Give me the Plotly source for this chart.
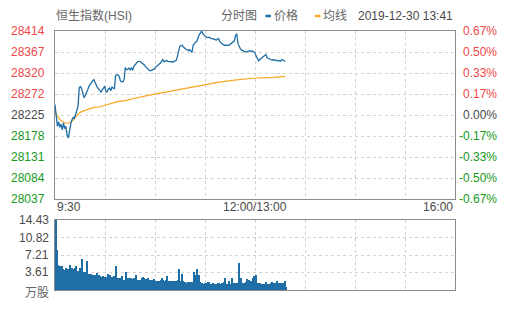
import plotly.graph_objects as go

# ---------------- data ----------------
price_minutes = list(range(191))
price = [
    28249, 28215, 28200, 28210, 28198, 28205, 28192, 28208, 28195, 28200,
    28180, 28174, 28196, 28205, 28215, 28220, 28218, 28228, 28232, 28245,
    28286, 28290, 28284, 28275, 28264, 28270, 28275, 28282, 28290, 28295,
    28297, 28302, 28305, 28298, 28293, 28287, 28284, 28280, 28277, 28282,
    28286, 28290, 28279, 28277, 28284, 28286, 28280, 28288, 28286, 28284,
    28314, 28316, 28316, 28312, 28302, 28300, 28300, 28305, 28332, 28327,
    28328, 28331, 28327, 28331, 28326, 28334, 28338, 28342, 28345, 28346,
    28346, 28344, 28342, 28339, 28337, 28333, 28330, 28327, 28325, 28325,
    28326, 28327, 28329, 28333, 28335, 28337, 28338, 28342, 28346, 28350,
    28345, 28347, 28348, 28346, 28346, 28346, 28345, 28344, 28346, 28346,
    28348, 28357, 28370, 28380, 28381, 28382, 28378, 28375, 28373, 28372,
    28370, 28372, 28368, 28366, 28382, 28387, 28389, 28391, 28400, 28406,
    28410, 28414, 28408, 28404, 28402, 28400, 28399, 28400, 28398, 28397,
    28397, 28396, 28395, 28394, 28396, 28397, 28390, 28387, 28385, 28383,
    28382, 28382, 28381, 28382, 28383, 28385, 28387, 28390, 28392, 28405,
    28407, 28385, 28378, 28374, 28371, 28369, 28368, 28367, 28367, 28368,
    28369, 28370, 28368, 28369, 28367, 28365, 28358, 28352, 28347, 28350,
    28353, 28355, 28357, 28359, 28361, 28354, 28352, 28351, 28350, 28349,
    28350, 28348, 28349, 28347, 28348, 28347, 28346, 28350, 28348, 28346,
    28346,
]

avg_minutes = [0, 2, 4, 6, 8, 10, 11, 13, 15, 18, 20, 22, 26, 30, 37, 45, 51,
               60, 64, 78, 92, 105, 119, 133, 146, 152, 163, 180, 186, 187, 190]
avg_price = [28232, 28222, 28215, 28211, 28208, 28207, 28207, 28210, 28214,
             28224, 28230, 28233, 28237, 28241, 28244, 28250, 28255, 28259,
             28262, 28270, 28277, 28284, 28292, 28298, 28303, 28305, 28308,
             28310, 28311, 28312, 28312]

vol_minutes = list(range(191))
volume = [
    14.43, 8.2, 5.2, 5.0, 4.9, 4.9, 4.3, 4.1, 4.1, 4.5,
    4.4, 3.8, 5.2, 3.8, 4.5, 4.4, 4.5, 4.9, 3.9, 3.9,
    4.5, 4.4, 6.4, 3.8, 3.7, 3.8, 5.9, 3.4, 3.4, 3.3,
    3.1, 3.1, 3.0, 3.1, 3.6, 3.0, 3.1, 2.9, 2.7, 2.8,
    2.7, 2.6, 2.7, 3.2, 2.7, 3.0, 2.7, 2.6, 2.8, 2.9,
    4.9, 2.5, 2.4, 2.5, 2.0, 2.9, 2.1, 2.0, 3.8, 2.4,
    2.5, 2.4, 2.4, 2.1, 2.3, 2.4, 3.0, 2.1, 2.0, 2.1,
    2.1, 2.4, 2.6, 2.4, 2.3, 2.2, 2.5, 2.1, 2.0, 2.1,
    2.0, 2.2, 1.9, 1.8, 1.9, 1.8, 1.9, 2.0, 2.4, 2.0,
    1.9, 2.0, 2.8, 1.9, 1.8, 1.9, 1.8, 1.9, 1.8, 1.9,
    1.8, 2.0, 4.3, 1.9, 3.3, 1.9, 1.6, 1.6, 1.5, 1.6,
    1.5, 1.6, 1.6, 1.6, 3.8, 3.1, 3.0, 4.3, 3.0, 1.7,
    1.4, 1.4, 1.3, 1.4, 1.4, 1.4, 1.7, 1.7, 1.2, 1.2,
    1.5, 1.2, 1.2, 1.2, 1.4, 1.4, 1.3, 1.4, 1.4, 1.6,
    2.5, 1.2, 1.2, 1.9, 1.2, 1.3, 2.5, 1.4, 1.3, 1.4,
    1.5, 5.5, 1.7, 2.5, 1.4, 1.4, 1.4, 1.6, 2.3, 2.1,
    2.1, 1.8, 1.8, 2.5, 2.9, 3.0, 1.4, 1.4, 1.3, 1.4,
    1.2, 1.2, 1.2, 1.2, 1.6, 1.2, 1.2, 1.3, 1.4, 1.7,
    1.4, 1.5, 1.5, 1.8, 1.5, 1.4, 1.4, 1.3, 1.4, 1.9,
    0.7,
]

price_labels = ["28414", "28367", "28320", "28272", "28225",
                "28178", "28131", "28084", "28037"]
pct_labels = ["0.67%", "0.50%", "0.33%", "0.17%", "0.00%",
              "-0.17%", "-0.33%", "-0.50%", "-0.67%"]
vol_labels = ["14.43", "10.82", "7.21", "3.61", "万股"]
vol_label_vals = [14.43, 10.82, 7.21, 3.61, 0]
time_labels = ["9:30", "12:00/13:00", "16:00"]

title_text = "恒生指数(HSI)"
view_text = "分时图"
legend_price = "价格"
legend_avg = "均线"
stamp_text = "2019-12-30 13:41"

# ---------------- style ----------------
W, H = 505, 310
L, R, T, B = 55, 50, 31, 20
PW, PH = W - L - R, H - T - B          # 400 x 259
BLUE = "#1f6ea6"
ORANGE = "#f7a823"
RED = "#f04848"
GREEN = "#17991b"
GRAY = "#4a4a4a"
TXT = "#666666"
BORDER = "#8c8c8c"
GRID = "#d2d2d2"
FONT = "Liberation Sans, Arial, Noto Sans CJK SC, sans-serif"

XMAX = 330
YMIN, YMAX = 28037, 28414
VMAX = 14.43


def px2paper_x(px):
    return (px - L) / PW


def py2paper_y(py):
    return (H - B - py) / PH


main_dom = [py2paper_y(199), 1.0]
vol_dom = [0.0, py2paper_y(220)]

fig = go.Figure()
fig.add_trace(go.Scatter(x=avg_minutes, y=avg_price, mode="lines",
                         line=dict(color=ORANGE, width=1.2),
                         xaxis="x", yaxis="y", hoverinfo="skip"))
fig.add_trace(go.Scatter(x=price_minutes, y=price, mode="lines",
                         line=dict(color=BLUE, width=1.3),
                         xaxis="x", yaxis="y"))
fig.add_trace(go.Bar(x=vol_minutes, y=volume, width=1, offset=0,
                     marker=dict(color=BLUE, line=dict(width=0)),
                     xaxis="x2", yaxis="y2"))

axis_common = dict(showline=True, mirror=True, linecolor=BORDER, linewidth=1,
                   showgrid=True, gridcolor=GRID, griddash="3px,3px",
                   gridwidth=1, zeroline=False, showticklabels=False,
                   ticks="", fixedrange=True)

fig.update_layout(
    width=W, height=H,
    margin=dict(l=L, r=R, t=T, b=B, pad=0),
    paper_bgcolor="white", plot_bgcolor="white",
    showlegend=False, bargap=0,
    font=dict(family=FONT, size=12, color=TXT),
    xaxis=dict(domain=[0, 1], range=[0, XMAX], tick0=0, dtick=XMAX / 8,
               anchor="y", **axis_common),
    yaxis=dict(domain=main_dom, range=[YMIN, YMAX], tick0=YMIN,
               dtick=(YMAX - YMIN) / 8, anchor="x", **axis_common),
    xaxis2=dict(domain=[0, 1], range=[0, XMAX], tick0=0, dtick=XMAX / 8,
                anchor="y2", **axis_common),
    yaxis2=dict(domain=vol_dom, range=[0, VMAX], tick0=0, dtick=VMAX / 4,
                anchor="x2", **axis_common),
)

ann = []


def color_for(i):
    return RED if i < 4 else (GRAY if i == 4 else GREEN)


for i, lab in enumerate(price_labels):
    yv = YMAX - i * (YMAX - YMIN) / 8
    ann.append(dict(x=px2paper_x(47), xref="paper", y=yv, yref="y",
                    text=lab, showarrow=False, xanchor="right",
                    yanchor="middle", font=dict(color=color_for(i), size=12)))
for i, lab in enumerate(pct_labels):
    yv = YMAX - i * (YMAX - YMIN) / 8
    ann.append(dict(x=px2paper_x(499), xref="paper", y=yv, yref="y",
                    text=lab, showarrow=False, xanchor="right",
                    yanchor="middle", font=dict(color=color_for(i), size=12)))
for lab, v in zip(vol_labels, vol_label_vals):
    yy = v if v > 0 else None
    if v > 0:
        ann.append(dict(x=px2paper_x(51), xref="paper", y=v, yref="y2",
                        text=lab, showarrow=False, xanchor="right",
                        yanchor="middle", font=dict(color=GRAY, size=12)))
    else:
        ann.append(dict(x=px2paper_x(51), xref="paper", y=py2paper_y(293),
                        yref="paper", text=lab, showarrow=False,
                        xanchor="right", yanchor="middle",
                        font=dict(color=TXT, size=12)))

ty = py2paper_y(207)
ann.append(dict(x=0, xref="paper", y=ty, yref="paper", text=time_labels[0],
                showarrow=False, xanchor="left", yanchor="middle",
                font=dict(color=GRAY, size=12)))
ann.append(dict(x=px2paper_x(255), xref="paper", y=ty, yref="paper",
                text=time_labels[1], showarrow=False, xanchor="center",
                yanchor="middle", font=dict(color=GRAY, size=12)))
ann.append(dict(x=1, xref="paper", y=ty, yref="paper", text=time_labels[2],
                showarrow=False, xanchor="right", yanchor="middle",
                font=dict(color=GRAY, size=12)))

hy = py2paper_y(16)
ann.append(dict(x=px2paper_x(54), xref="paper", y=hy, yref="paper",
                text=title_text, showarrow=False, xanchor="left",
                yanchor="middle", font=dict(color=TXT, size=12)))
ann.append(dict(x=px2paper_x(219), xref="paper", y=hy, yref="paper",
                text=view_text, showarrow=False, xanchor="left",
                yanchor="middle", font=dict(color=TXT, size=12)))
ann.append(dict(x=px2paper_x(272), xref="paper", y=hy, yref="paper",
                text=legend_price, showarrow=False, xanchor="left",
                yanchor="middle", font=dict(color=TXT, size=12)))
ann.append(dict(x=px2paper_x(321), xref="paper", y=hy, yref="paper",
                text=legend_avg, showarrow=False, xanchor="left",
                yanchor="middle", font=dict(color=TXT, size=12)))
ann.append(dict(x=px2paper_x(356), xref="paper", y=hy, yref="paper",
                text=stamp_text, showarrow=False, xanchor="left",
                yanchor="middle", font=dict(color=GRAY, size=12)))

shapes = [
    dict(type="line", xref="paper", yref="paper",
         x0=px2paper_x(265.5), x1=px2paper_x(271), y0=hy, y1=hy,
         line=dict(color=BLUE, width=2.5)),
    dict(type="line", xref="paper", yref="paper",
         x0=px2paper_x(315), x1=px2paper_x(320.5), y0=hy, y1=hy,
         line=dict(color=ORANGE, width=2.5)),
]

fig.update_layout(annotations=ann, shapes=shapes)
fig.write_html("out.html")
